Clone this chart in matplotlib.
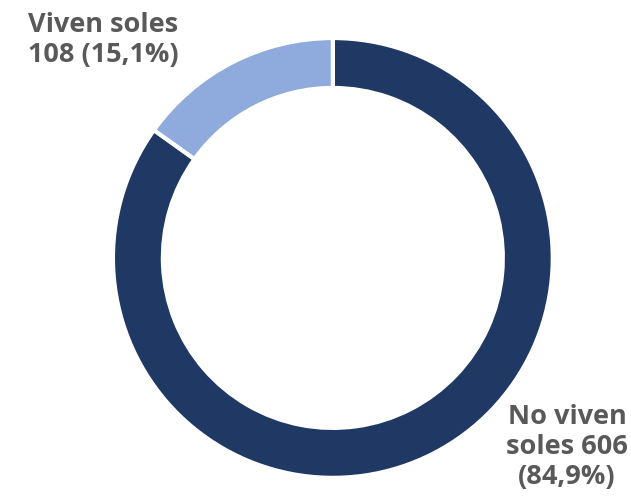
import matplotlib.pyplot as plt

etiquetas = ["No viven soles", "Viven soles"]
valores = [606, 108]
porcentajes = ["84,9%", "15,1%"]
colores = ["#1F3864", "#8FAADC"]

fig = plt.figure(figsize=(6.31, 5.03), dpi=100)
ax = fig.add_axes([0.179, 0.0497, 0.697, 0.875])

ax.pie(valores, colors=colores, startangle=90, counterclock=False, radius=1,
       wedgeprops=dict(width=0.227, edgecolor="white", linewidth=3))
ax.set_xlim(-1, 1)
ax.set_ylim(-1, 1)
ax.set_aspect("equal")
ax.axis("off")

estilo = dict(fontsize=19.5, fontweight="bold", color="#595959",
              family=["Open Sans", "DejaVu Sans"], ha="center", va="center",
              linespacing=1.2, clip_on=False)

ax.text(-1.045, 0.99, f"{etiquetas[1]}\n{valores[1]} ({porcentajes[1]})", **estilo)
ax.text(1.065, -0.86, f"No viven\nsoles {valores[0]}\n({porcentajes[0]})", **estilo)

fig.savefig("out.png", dpi=100)
